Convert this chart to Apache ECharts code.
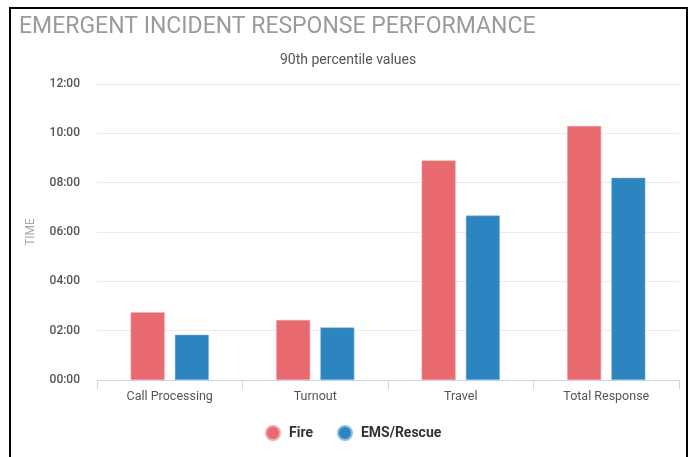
<!DOCTYPE html>
<html>
<head>
<meta charset="utf-8">
<script src="https://cdn.jsdelivr.net/npm/echarts@6/dist/echarts.min.js"></script>
<style>
html,body{margin:0;padding:0;background:#fff;}
#chart{position:absolute;left:0;top:0;width:691px;height:457px;}
#frame{position:absolute;left:9px;top:7px;width:679px;height:460px;border:2px solid #000;box-sizing:border-box;pointer-events:none;}
</style>
</head>
<body>
<div id="chart"></div>
<div id="frame"></div>
<script>
const categories = ['Call Processing', 'Turnout', 'Travel', 'Total Response'];
const seriesNames = ['Fire', 'EMS/Rescue'];
// values in seconds (90th percentile)
const fireSeconds = [165, 146, 534, 618];
const emsSeconds = [110, 128, 400, 492];
const colors = ['#E96A6E', '#2D85C0'];

function fmt(v) {
  const m = Math.floor(v / 60), s = Math.round(v % 60);
  return String(m).padStart(2, '0') + ':' + String(s).padStart(2, '0');
}

const chart = echarts.init(document.getElementById('chart'), null, {renderer: 'canvas'});
chart.setOption({
  backgroundColor: 'transparent',
  animation: false,
  textStyle: {fontFamily: 'Roboto'},
  title: [
    {text: 'EMERGENT INCIDENT RESPONSE PERFORMANCE', left: 14, top: 11,
     textStyle: {fontSize: 23, fontWeight: 'normal', color: '#9a9a9a', fontFamily: 'Roboto'}},
    {text: '90th percentile values', left: 275, top: 48,
     textStyle: {fontSize: 14, fontWeight: 'normal', color: '#555', fontFamily: 'Roboto'}}
  ],
  legend: {
    data: seriesNames, top: 420, left: 260, icon: 'circle',
    itemWidth: 14, itemHeight: 14, itemGap: 24,
    textStyle: {fontSize: 14, fontWeight: 'bold', color: '#333', fontFamily: 'Roboto', padding: [0, 0, 0, 4]}
  },
  grid: {left: 97, right: 12, top: 84, bottom: 77, containLabel: false},
  xAxis: {
    type: 'category', data: categories,
    axisLine: {lineStyle: {color: '#c9d5e8'}},
    axisTick: {show: true, length: 9, lineStyle: {color: '#c9d5e8'}},
    axisLabel: {color: '#555', fontSize: 12.5, margin: 10, fontFamily: 'Roboto'}
  },
  yAxis: {
    type: 'value', min: 0, max: 720, interval: 120,
    name: 'TIME', nameLocation: 'middle', nameGap: 60, nameRotate: 90,
    nameTextStyle: {color: '#aaa', fontSize: 12, fontFamily: 'Roboto'},
    axisLine: {show: false}, axisTick: {show: false},
    axisLabel: {formatter: fmt, color: '#555', fontSize: 12, fontWeight: 500, margin: 17, fontFamily: 'Roboto'},
    splitLine: {lineStyle: {color: '#ececec', width: 1}}
  },
  series: [
    {name: seriesNames[0], type: 'bar', data: fireSeconds, barWidth: 34, barGap: '30%',
     itemStyle: {color: colors[0], borderColor: '#f3a9ac', borderWidth: 0.5}},
    {name: seriesNames[1], type: 'bar', data: emsSeconds, barWidth: 34,
     itemStyle: {color: colors[1], borderColor: '#8fbde0', borderWidth: 0.5}}
  ]
});
</script>
</body>
</html>
